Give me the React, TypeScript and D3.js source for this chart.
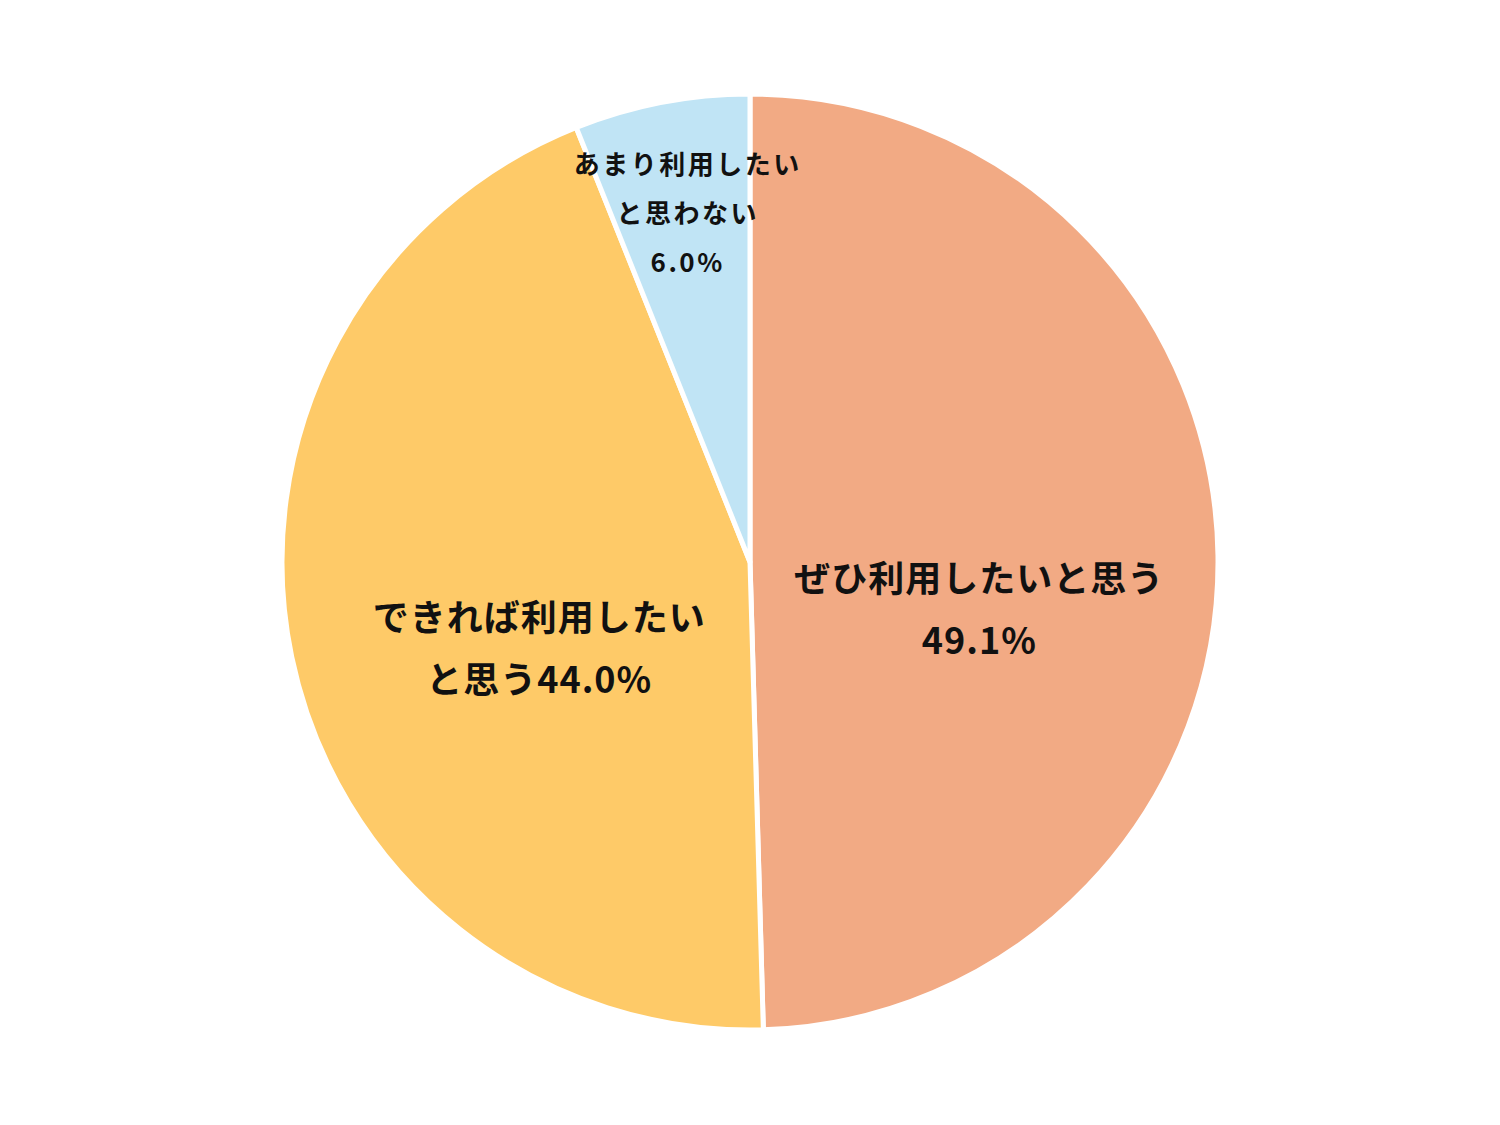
import * as d3 from "d3";
import React from "react";

// Survey answers
const categories = ["ぜひ利用したいと思う", "できれば利用したいと思う", "あまり利用したいと思わない"];
const values = [49.1, 44.0, 6.0];
const labelLines = [
	["ぜひ利用したいと思う", "49.1%"],
	["できれば利用したい", "と思う44.0%"],
	["あまり利用したい", "と思わない", "6.0%"],
];

const colors = ["#F2AA84", "#FECA68", "#C0E4F5"];

export default function App() {
	const width = 1500;
	const height = 1125;
	const cx = 750;
	const cy = 562;
	const radius = 468;

	const pie = d3
		.pie<number>()
		.sort(null)
		.value((d) => d);
	const arcs = pie(values);

	const arc = d3.arc<d3.PieArcDatum<number>>().innerRadius(0).outerRadius(radius);

	// label placement: radius fraction, shifts, font size, line height
	const labelLayout = [
		{ r: 0.49, dx: 0, dy: 48, size: 36, lh: 62, ls: 1 },
		{ r: 0.46, dx: 0, dy: 40, size: 36, lh: 62, ls: 1 },
		{ r: 0.75, dx: 4, dy: -6, size: 26, lh: 49, ls: 2.5 },
	];

	return (
		<div style={{ position: "fixed", left: 0, top: 0 }}>
			<svg width={width} height={height} style={{ display: "block", background: "#fff" }}>
				<g transform={`translate(${cx},${cy})`}>
					{arcs.map((a, i) => (
						<path
							key={categories[i]}
							d={arc(a) ?? ""}
							fill={colors[i]}
							stroke="#fff"
							strokeWidth={5}
							strokeLinejoin="round"
						/>
					))}
					{arcs.map((a, i) => {
						const lay = labelLayout[i];
						const [lx, ly] = d3
							.arc<d3.PieArcDatum<number>>()
							.innerRadius(radius * lay.r)
							.outerRadius(radius * lay.r)
							.centroid(a);
						const lines = labelLines[i];
						const y0 = ly + lay.dy - ((lines.length - 1) * lay.lh) / 2;
						return (
							<text
								key={"l" + i}
								textAnchor="middle"
								dominantBaseline="central"
								fontFamily="'Noto Sans CJK JP', 'Noto Sans', sans-serif"
								fontWeight="bold"
								fontSize={lay.size}
								letterSpacing={lay.ls}
								fill="#111"
							>
								{lines.map((t, j) => (
									<tspan key={j} x={lx + lay.dx} y={y0 + j * lay.lh}>
										{t}
									</tspan>
								))}
							</text>
						);
					})}
				</g>
			</svg>
		</div>
	);
}
